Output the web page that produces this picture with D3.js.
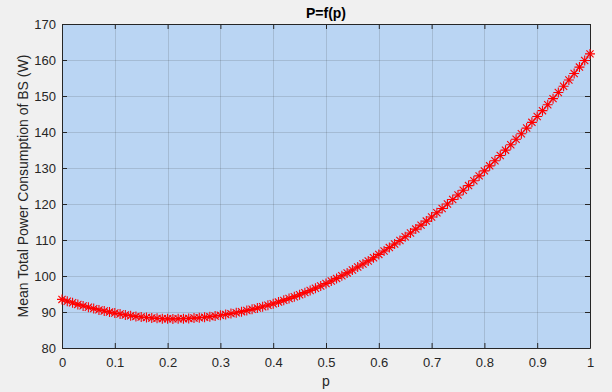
<!DOCTYPE html>
<html>
<head>
<meta charset="utf-8">
<script src="https://cdn.jsdelivr.net/npm/d3@7"></script>
<style>
  body { margin: 0; background: #f0f0f0; }
  svg { display: block; font-family: "Liberation Sans", Arial, sans-serif; }
</style>
</head>
<body>
<svg width="612" height="392"></svg>
<script>
// p values (x) and mean total power consumption (y)
const pValues = [
  0.00, 0.01, 0.02, 0.03, 0.04, 0.05, 0.06, 0.07, 0.08, 0.09,
  0.10, 0.11, 0.12, 0.13, 0.14, 0.15, 0.16, 0.17, 0.18, 0.19,
  0.20, 0.21, 0.22, 0.23, 0.24, 0.25, 0.26, 0.27, 0.28, 0.29,
  0.30, 0.31, 0.32, 0.33, 0.34, 0.35, 0.36, 0.37, 0.38, 0.39,
  0.40, 0.41, 0.42, 0.43, 0.44, 0.45, 0.46, 0.47, 0.48, 0.49,
  0.50, 0.51, 0.52, 0.53, 0.54, 0.55, 0.56, 0.57, 0.58, 0.59,
  0.60, 0.61, 0.62, 0.63, 0.64, 0.65, 0.66, 0.67, 0.68, 0.69,
  0.70, 0.71, 0.72, 0.73, 0.74, 0.75, 0.76, 0.77, 0.78, 0.79,
  0.80, 0.81, 0.82, 0.83, 0.84, 0.85, 0.86, 0.87, 0.88, 0.89,
  0.90, 0.91, 0.92, 0.93, 0.94, 0.95, 0.96, 0.97, 0.98, 0.99,
  1.00
];
const powerValues = [
  93.50, 93.01, 92.55, 92.11, 91.70, 91.31, 90.94, 90.59, 90.27, 89.97,
  89.70, 89.43, 89.19, 88.97, 88.78, 88.61, 88.46, 88.33, 88.23, 88.15,
  88.10, 88.09, 88.11, 88.15, 88.22, 88.31, 88.42, 88.55, 88.71, 88.89,
  89.10, 89.31, 89.55, 89.81, 90.10, 90.41, 90.74, 91.09, 91.47, 91.87,
  92.30, 92.75, 93.23, 93.73, 94.26, 94.81, 95.38, 95.97, 96.59, 97.23,
  97.90, 98.60, 99.33, 100.08, 100.86, 101.66, 102.48, 103.32, 104.19, 105.08,
  106.00, 106.93, 107.89, 108.87, 109.88, 110.91, 111.96, 113.03, 114.13, 115.25,
  116.40, 117.57, 118.77, 119.99, 121.24, 122.51, 123.80, 125.11, 126.45, 127.81,
  129.20, 130.60, 132.03, 133.48, 134.96, 136.46, 137.98, 139.52, 141.09, 142.68,
  144.30, 145.93, 147.59, 149.27, 150.98, 152.71, 154.46, 156.23, 158.03, 159.85,
  161.70
];
const xTicks = [0, 0.1, 0.2, 0.3, 0.4, 0.5, 0.6, 0.7, 0.8, 0.9, 1];
const yTicks = [80, 90, 100, 110, 120, 130, 140, 150, 160, 170];

const titleText = "P=f(p)";
const xLabel = "p";
const yLabel = "Mean Total Power Consumption of BS (W)";

const svg = d3.select("svg");
const margin = { left: 62, right: 22, top: 24, bottom: 44 };
const W = 612, H = 392;

const x = d3.scaleLinear().domain([0, 1]).range([margin.left, W - margin.right]);
const y = d3.scaleLinear().domain([80, 170]).range([H - margin.bottom, margin.top]);

const axisColor = "#262626";

// axes background
svg.append("rect")
  .attr("x", x(0)).attr("y", y(170))
  .attr("width", x(1) - x(0)).attr("height", y(80) - y(170))
  .attr("fill", "#bad5f3");

// grid
const grid = svg.append("g").attr("stroke", axisColor).attr("stroke-opacity", 0.15).attr("stroke-width", 1);
grid.selectAll(".gx").data(xTicks.slice(1, -1)).enter().append("line")
  .attr("x1", d => Math.round(x(d)) + 0.5).attr("x2", d => Math.round(x(d)) + 0.5)
  .attr("y1", y(170)).attr("y2", y(80));
grid.selectAll(".gy").data(yTicks.slice(1, -1)).enter().append("line")
  .attr("y1", d => Math.round(y(d)) + 0.5).attr("y2", d => Math.round(y(d)) + 0.5)
  .attr("x1", x(0)).attr("x2", x(1));

// axes
const fmt = d => (d === 0 || d === 1) ? String(d) : d3.format(".1f")(d);
const xAxis = svg.append("g").attr("transform", `translate(0,${y(80)})`)
  .call(d3.axisBottom(x).tickValues(xTicks).tickFormat(fmt).tickSizeInner(-5).tickSizeOuter(0).tickPadding(10));
const xAxisTop = svg.append("g").attr("transform", `translate(0,${y(170)})`)
  .call(d3.axisTop(x).tickValues(xTicks).tickFormat("").tickSizeInner(-5).tickSizeOuter(0));
const yAxis = svg.append("g").attr("transform", `translate(${x(0)},0)`)
  .call(d3.axisLeft(y).tickValues(yTicks).tickSizeInner(-5).tickSizeOuter(0).tickPadding(6));
const yAxisRight = svg.append("g").attr("transform", `translate(${x(1)},0)`)
  .call(d3.axisRight(y).tickValues(yTicks).tickFormat("").tickSizeInner(-5).tickSizeOuter(0));

[xAxis, xAxisTop, yAxis, yAxisRight].forEach(a => {
  a.selectAll("path").attr("stroke", axisColor).attr("stroke-width", 1);
  a.selectAll("line").attr("stroke", axisColor);
  a.selectAll("text").attr("fill", axisColor).style("font-size", "13px")
    .style("font-family", "'Liberation Sans', Arial, sans-serif");
});

// data line + asterisk markers
const pts = pValues.map((p, i) => [p, powerValues[i]]);
svg.append("path")
  .datum(pts)
  .attr("fill", "none")
  .attr("stroke", "#ff0000")
  .attr("stroke-width", 1)
  .attr("d", d3.line().x(d => x(d[0])).y(d => y(d[1])));

const r = 5, rd = 3.6;
const star = `M${-r},0H${r}M0,${-r}V${r}M${-rd},${-rd}L${rd},${rd}M${-rd},${rd}L${rd},${-rd}`;
svg.append("g").selectAll("path").data(pts).enter().append("path")
  .attr("transform", d => `translate(${x(d[0])},${y(d[1])})`)
  .attr("d", star)
  .attr("fill", "none")
  .attr("stroke", "#ff0000")
  .attr("stroke-width", 1.1);

// labels
svg.append("text")
  .attr("x", (x(0) + x(1)) / 2).attr("y", 18)
  .attr("text-anchor", "middle")
  .attr("fill", "#000")
  .style("font-size", "14px").style("font-weight", "bold")
  .text(titleText);

svg.append("text")
  .attr("x", (x(0) + x(1)) / 2).attr("y", 386)
  .attr("text-anchor", "middle")
  .attr("fill", axisColor)
  .style("font-size", "14px")
  .text(xLabel);

svg.append("text")
  .attr("transform", `translate(28,${(y(80) + y(170)) / 2}) rotate(-90)`)
  .attr("text-anchor", "middle")
  .attr("fill", axisColor)
  .style("font-size", "14px")
  .text(yLabel);
</script>
</body>
</html>
